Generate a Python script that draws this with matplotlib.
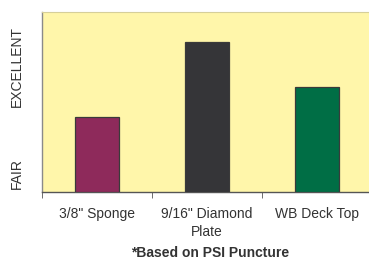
import matplotlib
matplotlib.use("Agg")
import matplotlib.pyplot as plt
import numpy as np

# rating on a 0-6 scale (FAIR .. EXCELLENT)
products = ['3/8" Sponge', '9/16" Diamond\nPlate', 'WB Deck Top']
ratings = [2.5, 5.0, 3.5]
colors = ["#8E2A5B", "#353538", "#006E45"]
level_labels = ["FAIR", "EXCELLENT"]
level_pos = [0.6, 4.17]
note = "*Based on PSI Puncture"

plt.rcParams["font.family"] = ["Liberation Sans", "DejaVu Sans"]

fig = plt.figure(figsize=(3.69, 2.63), dpi=100)
ax = fig.add_axes([42 / 369, 1 - 192 / 263, 330 / 369, 180 / 263])
ax.set_facecolor("#FFF6AA")

x = np.arange(len(products)) + 0.5
ax.bar(x, ratings, width=0.4, color=colors, edgecolor="#3a3a3a", linewidth=0.9, zorder=3)

ax.set_xlim(0, 2.94)
ax.set_ylim(0, 6)

ax.set_xticks(x)
ax.set_xticklabels(products, fontsize=10, color="#333333", linespacing=1.35)
ax.set_xticks([0, 1, 2, 3], minor=True)
ax.tick_params(axis="x", which="major", length=0, pad=11)
ax.tick_params(axis="x", which="minor", length=4, color="#555555", direction="out")

ax.set_yticks(level_pos)
ax.set_yticklabels(level_labels, rotation=90, va="center", fontsize=10, color="#333333")
ax.tick_params(axis="y", length=0, pad=13)

ax.spines["right"].set_visible(False)
ax.spines["top"].set_color("#d6cf9a")
ax.spines["top"].set_linewidth(0.8)
ax.spines["left"].set_color("#8a8a8a")
ax.spines["bottom"].set_color("#555555")
ax.spines["left"].set_linewidth(1.0)
ax.spines["bottom"].set_linewidth(1.0)

fig.text(210 / 369, 1 - 253 / 263, note, fontsize=10, fontweight="bold",
         color="#333333", ha="center", va="center")

fig.savefig("out.png", dpi=100)
